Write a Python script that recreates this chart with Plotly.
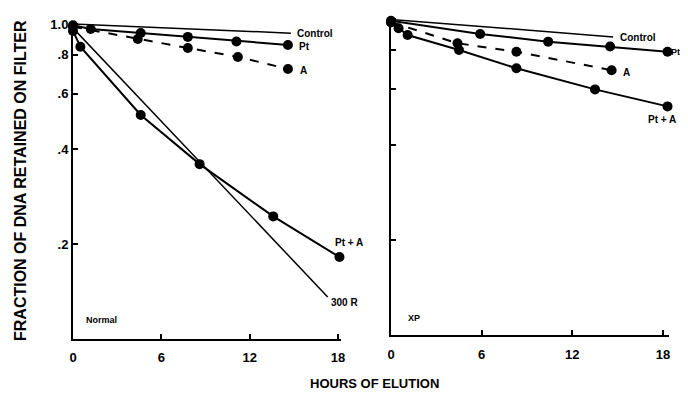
import plotly.graph_objects as go

# ---- data ----
# Normal panel
ctrl_N_h = [0, 14.8]
ctrl_N = [1.0, 0.935]
pt_N_h = [0, 1.2, 4.6, 7.8, 11.1, 14.6]
pt_N = [0.99, 0.964, 0.936, 0.91, 0.88, 0.858]
a_N_h = [0, 4.4, 7.8, 11.2, 14.6]
a_N = [0.98, 0.896, 0.839, 0.786, 0.72]
pta_N_h = [0, 0.5, 4.6, 8.6, 13.6, 18.1]
pta_N = [0.95, 0.847, 0.514, 0.359, 0.245, 0.182]
r300_N_h = [0, 17.3]
r300_N = [0.97, 0.136]

# XP panel
ctrl_X_h = [0, 14.7]
ctrl_X = [1.0, 0.88]
pt_X_h = [0, 5.9, 10.4, 14.5, 18.3]
pt_X = [0.99, 0.899, 0.85, 0.82, 0.79]
a_X_h = [0, 4.4, 8.3, 14.6]
a_X = [0.98, 0.84, 0.79, 0.69]
pta_X_h = [0, 0.5, 1.1, 4.5, 8.3, 13.5, 18.3]
pta_X = [0.98, 0.937, 0.892, 0.80, 0.70, 0.60, 0.53]

x_ticks = [0, 6, 12, 18]
y_ticks = [0.2, 0.4, 0.6, 0.8, 1.0]
y_tick_text = [".2", ".4", ".6", ".8", "1.0"]

OX, OY = 8, 8  # page body margin offset
W, H = 688 - OX, 393 - OY
FONT = "Liberation Sans"


def fx(px):
    return (px - OX) / W


def fy(py):
    return 1 - (py - OY) / H


fig = go.Figure()


def line(x, y, xa, ya, dash="solid", marker=False, width=2):
    fig.add_trace(go.Scatter(
        x=x, y=y, xaxis=xa, yaxis=ya,
        mode="lines+markers" if marker else "lines",
        line=dict(color="black", width=width, dash=dash),
        marker=dict(color="black", size=10),
        cliponaxis=False,
        showlegend=False, hoverinfo="skip"))


line(ctrl_N_h, ctrl_N, "x", "y", width=1.5)
line(pt_N_h, pt_N, "x", "y", marker=True)
line(a_N_h, a_N, "x", "y", dash="dash", marker=True)
line(pta_N_h, pta_N, "x", "y", marker=True)
line(r300_N_h, r300_N, "x", "y", width=1.5)

line(ctrl_X_h, ctrl_X, "x2", "y2", width=1.5)
line(pt_X_h, pt_X, "x2", "y2", marker=True)
line(a_X_h, a_X, "x2", "y2", dash="dash", marker=True)
line(pta_X_h, pta_X, "x2", "y2", marker=True)

axis_common = dict(showgrid=False, zeroline=False, showline=True,
                   linecolor="black", linewidth=2, ticks="inside",
                   ticklen=5, tickwidth=1.5, tickcolor="black", automargin=False,
                   tickfont=dict(family=FONT, size=13, color="black", weight="bold"))

X1_MAX, X2_MAX = 18.2, 18.4
fig.update_layout(
    width=W, height=H,
    margin=dict(l=0, r=0, t=0, b=0),
    paper_bgcolor="white", plot_bgcolor="white",
    xaxis=dict(domain=[fx(73), fx(73 + 265 * X1_MAX / 18)], range=[0, X1_MAX],
               tickvals=x_ticks, anchor="y", ticklabelstandoff=5, **axis_common),
    yaxis=dict(domain=[fy(339), fy(22.4)], type="log", range=[-1, 0.005],
               tickvals=y_ticks, ticktext=y_tick_text, anchor="x", **axis_common),
    xaxis2=dict(domain=[fx(391), fx(391 + 272 * X2_MAX / 18)], range=[0, X2_MAX],
                tickvals=x_ticks, anchor="y2", ticklabelstandoff=6, **axis_common),
    yaxis2=dict(domain=[fy(335), fy(17.8)], type="log", range=[-1, 0.005],
                tickvals=y_ticks, showticklabels=False, anchor="x2", **axis_common),
)


def label(text, px, py, size=10, anchor="left", angle=0):
    fig.add_annotation(text=text, x=fx(px), y=fy(py), xref="paper", yref="paper",
                       showarrow=False, xanchor=anchor, yanchor="middle",
                       textangle=angle,
                       font=dict(family=FONT, size=size, color="black", weight="bold"))


label("Control", 295, 33)
label("Pt", 297, 46)
label("A", 298, 70)
label("Pt + A", 333, 242)
label("300 R", 329, 302)
label("Normal", 84, 320, size=9)

label("Control", 618, 37)
label("Pt", 669, 52, size=9)
label("A", 621, 72)
label("Pt + A", 646, 119)
label("XP", 406, 318, size=9)

label("HOURS OF ELUTION", 374, 383, size=13, anchor="center")
label("FRACTION OF DNA RETAINED ON FILTER", 20, 181, size=16, anchor="center", angle=-90)

fig.write_html("out.html")
